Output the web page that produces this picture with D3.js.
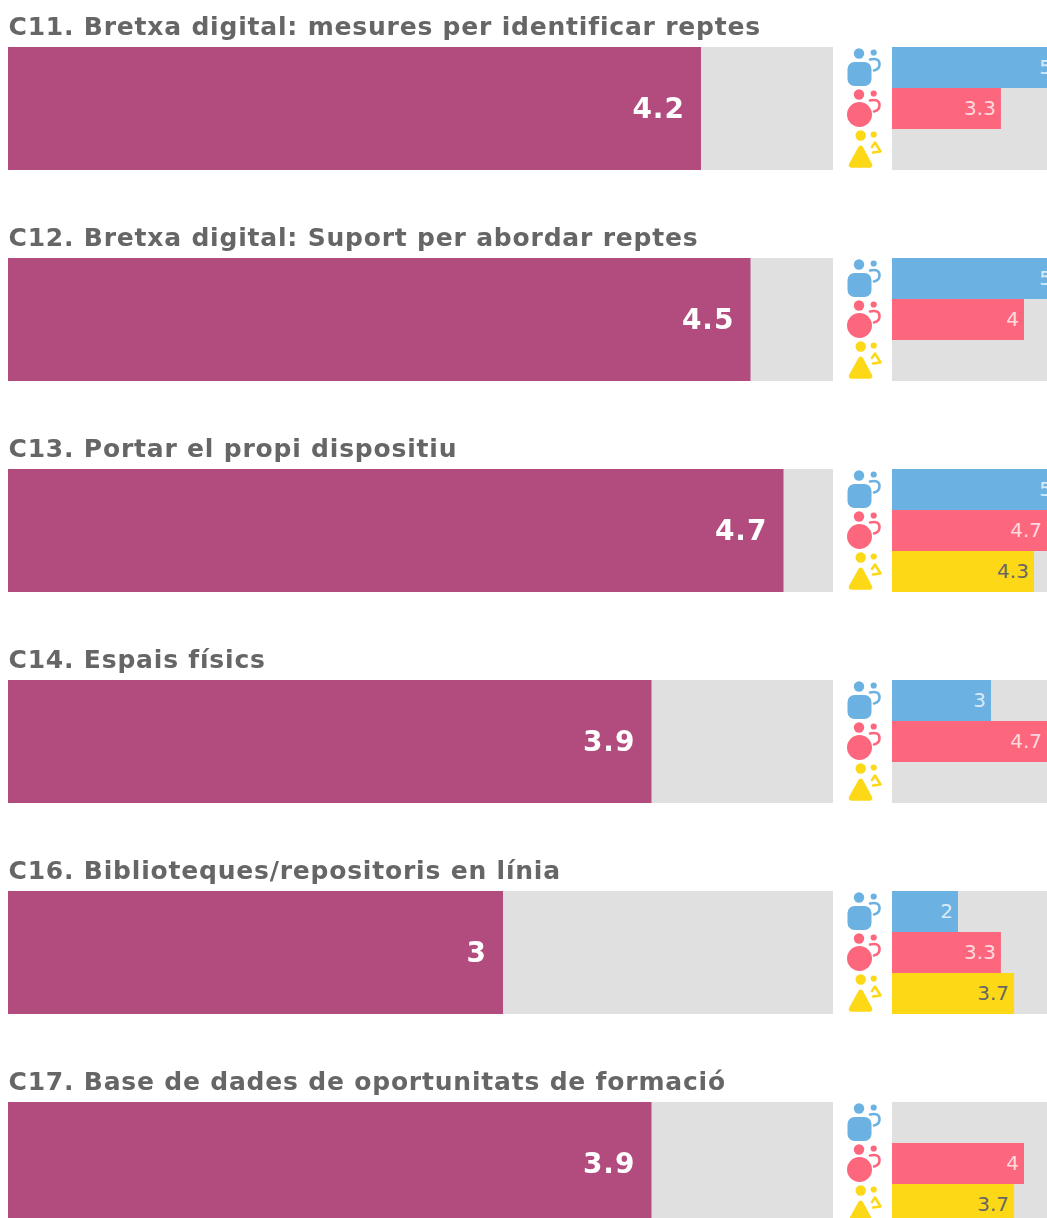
<!DOCTYPE html>
<html>
<head>
<meta charset="utf-8">
<script src="https://cdn.jsdelivr.net/npm/d3@7"></script>
<style>
  html, body { margin: 0; padding: 0; background: #fff; overflow: hidden; }
  svg { display: block; font-family: "DejaVu Sans"; filter: blur(0.6px); }
</style>
</head>
<body>
<div id="container"></div>
<script>
// global value per question plus the three profile values (null = no bar)
const titles = [
    "C11. Bretxa digital: mesures per identificar reptes",
    "C12. Bretxa digital: Suport per abordar reptes",
    "C13. Portar el propi dispositiu",
    "C14. Espais físics",
    "C16. Biblioteques/repositoris en línia",
    "C17. Base de dades de oportunitats de formació"
]
const totals = [4.2, 4.5, 4.7, 3.9, 3, 3.9]
const blueValues = [5, 5, 5, 3, 2, null]
const redValues = [3.3, 4, 4.7, 4.7, 3.3, 4]
const yellowValues = [null, null, 4.3, null, 3.7, 3.7]
const groups = ["blue", "red", "yellow"]

const width = 1047,
    height = 1218

const colors = {
    total: "#b34c7e",
    track: "#e0e0e0",
    blue: "#6bb2e3",
    red: "#fd677e",
    yellow: "#fdd817",
    text: "#666666"
}

const svg = d3.select("#container")
    .append("svg")
    .attr("width", width)
    .attr("height", height)

const rowStep = 211,
    rowHeight = 123

const rowScale = d3.scaleBand()
    .domain(titles)
    .range([47, 47 + rowStep * titles.length - (rowStep - rowHeight)])
    .paddingInner((rowStep - rowHeight) / rowStep)
    .paddingOuter(0)

const xMain = d3.scaleLinear().domain([0, 5]).range([8, 833])
const xSmall = d3.scaleLinear().domain([0, 5]).range([892, 1057])
const groupScale = d3.scaleBand().domain(groups).range([0, rowScale.bandwidth()])

// the little people icons, one for each group, origin at top left of the band
function drawIcon(g, group) {
    const c = colors[group]
    const head = group == "yellow" ? [12.7, 6.5] : [11, 6.5]
    g.append("circle").attr("cx", head[0]).attr("cy", head[1]).attr("r", 5.2).attr("fill", c)
    g.append("circle").attr("cx", 25.7).attr("cy", 5.5).attr("r", 3.1).attr("fill", c)
    if (group == "blue") {
        g.append("rect").attr("x", -0.5).attr("y", 15).attr("width", 24).attr("height", 24)
            .attr("rx", 7).attr("fill", c)
    } else if (group == "red") {
        g.append("circle").attr("cx", 11.5).attr("cy", 26.5).attr("r", 12.5).attr("fill", c)
    } else {
        g.append("path").attr("d", "M12.7 19.5 L21.5 36 L3.5 36 Z")
            .attr("fill", c).attr("stroke", c)
            .attr("stroke-width", 5.5).attr("stroke-linejoin", "round")
    }
    const hook = group == "yellow"
        ? "M24 18 L27 13.5 L32.5 22.5 L25 23.5"
        : "M22 12.5 Q31.5 10.5 31.5 17 Q31.5 22.5 26 23.5"
    g.append("path").attr("d", hook)
        .attr("fill", "none").attr("stroke", c)
        .attr("stroke-width", 2.6).attr("stroke-linecap", "round").attr("stroke-linejoin", "round")
}

const rows = svg.selectAll("g.row")
    .data(titles)
    .enter()
    .append("g")
    .attr("class", "row")
    .attr("transform", d => `translate(0,${rowScale(d)})`)

rows.append("text")
    .attr("x", 8.5)
    .attr("y", -12)
    .attr("font-size", 25)
    .attr("letter-spacing", 0.8)
    .attr("font-weight", "bold")
    .attr("fill", colors.text)
    .text(d => d)

rows.append("rect")
    .attr("x", xMain(0))
    .attr("width", xMain(5) - xMain(0))
    .attr("height", rowScale.bandwidth())
    .attr("fill", colors.track)

rows.append("rect")
    .attr("x", xMain(0))
    .attr("width", (d, i) => xMain(totals[i]) - xMain(0))
    .attr("height", rowScale.bandwidth())
    .attr("fill", colors.total)

rows.append("text")
    .attr("x", (d, i) => xMain(totals[i]) - 16)
    .attr("y", rowScale.bandwidth() / 2 + 9.5)
    .attr("text-anchor", "end")
    .attr("font-size", 28)
    .attr("letter-spacing", 1)
    .attr("font-weight", "bold")
    .attr("fill", "#fff")
    .text((d, i) => totals[i])

rows.append("rect")
    .attr("x", xSmall(0))
    .attr("width", xSmall(5) - xSmall(0))
    .attr("height", rowScale.bandwidth())
    .attr("fill", colors.track)

const seriesValues = { blue: blueValues, red: redValues, yellow: yellowValues }

rows.each(function (title, i) {
    const row = d3.select(this)
    groups.forEach(group => {
        const value = seriesValues[group][i]
        const y = groupScale(group)
        drawIcon(row.append("g").attr("transform", `translate(848,${y})`), group)
        if (value === null) return
        row.append("rect")
            .attr("x", xSmall(0))
            .attr("y", y)
            .attr("width", xSmall(value) - xSmall(0))
            .attr("height", groupScale.bandwidth())
            .attr("fill", colors[group])
        row.append("text")
            .attr("x", xSmall(value) - 5)
            .attr("y", y + groupScale.bandwidth() / 2 + 6.5)
            .attr("text-anchor", "end")
            .attr("font-size", 20)
            .attr("fill", group == "yellow" ? colors.text : "#fff")
            .attr("fill-opacity", group == "yellow" ? 1 : 0.75)
            .text(value)
    })
})
</script>
</body>
</html>
